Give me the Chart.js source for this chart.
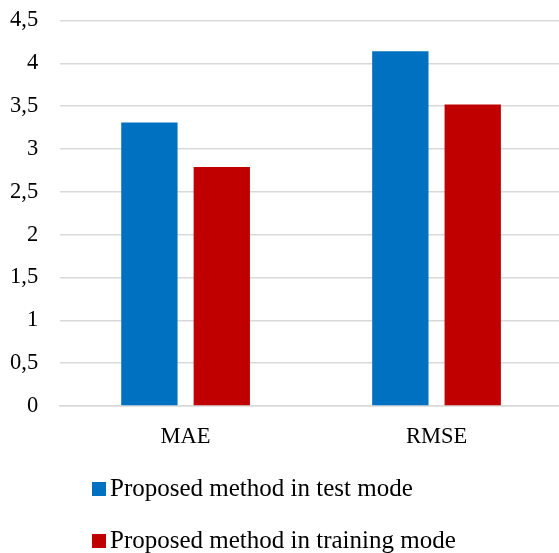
<!DOCTYPE html>
<html>
<head>
<meta charset="utf-8">
<script src="https://cdn.jsdelivr.net/npm/chart.js@4"></script>
<style>
  html, body { margin: 0; padding: 0; background: #fff; }
  .wrap { position: relative; width: 559px; height: 553px; overflow: hidden; }
  #chart { position: absolute; left: -22px; top: -15px; }
  .legend { position: absolute; left: 92px; top: 468px; font-family: 'Liberation Serif', serif; font-size: 25px; color: #000; }
  .legend div { height: 52px; line-height: 40px; white-space: nowrap; }
  .legend span.box { display: inline-block; width: 14px; height: 14px; margin-right: 4px; vertical-align: 0px; }
</style>
</head>
<body>
<div class="wrap">
  <canvas id="chart" width="584" height="497"></canvas>
  <div class="legend" id="legend"></div>
</div>
<script>
const categories = ['MAE', 'RMSE'];
const testValues = [3.31, 4.14];
const trainingValues = [2.79, 3.52];
const seriesNames = ['Proposed method in test mode', 'Proposed method in training mode'];
const colors = ['#0070c0', '#c00000'];

const serif = "'Liberation Serif', serif";

const ctx = document.getElementById('chart').getContext('2d');
const chart = new Chart(ctx, {
    type: 'bar',
    data: {
        labels: categories,
        datasets: [
            { label: seriesNames[0], data: testValues, backgroundColor: colors[0] },
            { label: seriesNames[1], data: trainingValues, backgroundColor: colors[1] }
        ]
    },
    options: {
        responsive: false,
        animation: false,
        categoryPercentage: 0.577,
        barPercentage: 0.778,
        layout: { padding: { left: 10, right: 0, top: 0, bottom: 21 } },
        plugins: { legend: { display: false }, tooltip: { enabled: false } },
        scales: {
            x: {
                grid: { display: false },
                border: { color: '#d9d9d9', width: 1.5 },
                ticks: { color: '#000', padding: 10, font: { family: serif, size: 22.5 } }
            },
            y: {
                min: 0, max: 4.5,
                grid: { color: '#d9d9d9', lineWidth: 1.5, drawTicks: false },
                border: { display: false },
                ticks: {
                    stepSize: 0.5, color: '#000', padding: 22,
                    font: { family: serif, size: 22.5 },
                    callback: v => String(v).replace('.', ',')
                }
            }
        }
    }
});
// redibujar cuando la fuente esté lista
if (document.fonts) document.fonts.load("22px 'Liberation Serif'").then(() => chart.update());

// leyenda en HTML, alineada a la izquierda como en la figura
const legend = document.getElementById('legend');
seriesNames.forEach((name, i) => {
    const row = document.createElement('div');
    const box = document.createElement('span');
    box.className = 'box';
    box.style.background = colors[i];
    row.appendChild(box);
    row.appendChild(document.createTextNode(name));
    legend.appendChild(row);
});
</script>
</body>
</html>
